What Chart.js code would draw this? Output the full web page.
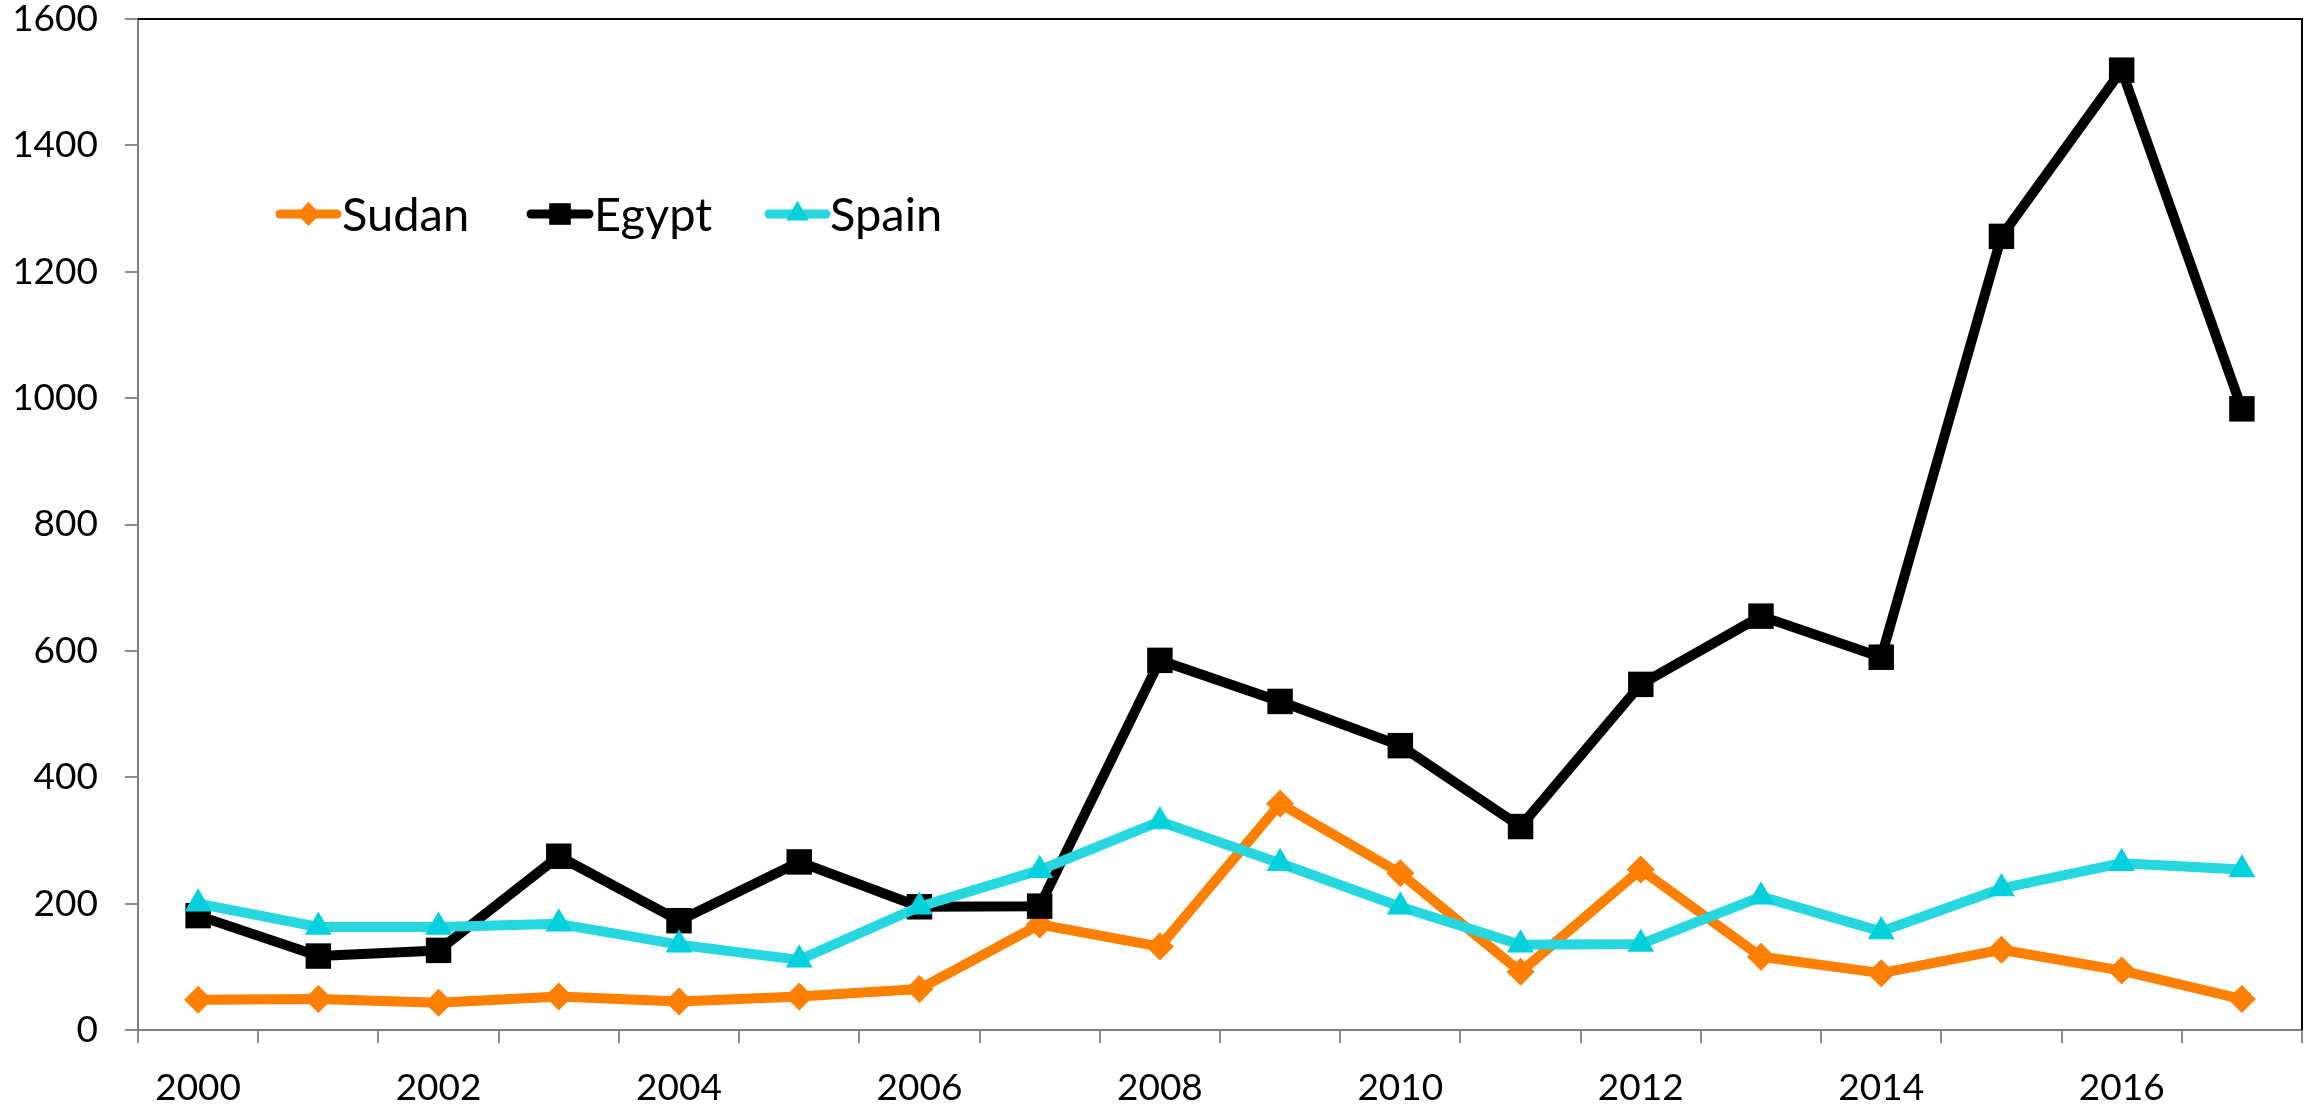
<!DOCTYPE html>
<html>
<head>
<meta charset="utf-8">
<title>Sudan, Egypt, Spain 2000-2017</title>
<script src="https://cdn.jsdelivr.net/npm/chart.js@4.4.1/dist/chart.umd.min.js"></script>
<style>
  html, body { margin: 0; padding: 0; background: #fff; }
  #wrap { width: 2320px; height: 1108px; }
</style>
</head>
<body>
<div id="wrap"><canvas id="chart" width="2320" height="1108"></canvas></div>
<script>
// Data
const years = ['2000', '2001', '2002', '2003', '2004', '2005', '2006', '2007', '2008',
               '2009', '2010', '2011', '2012', '2013', '2014', '2015', '2016', '2017'];
const sudan = [48, 49, 43, 53, 45, 53, 65, 167, 132, 358, 248, 92, 254, 116, 90, 127, 94, 49];
const egypt = [181, 117, 126, 275, 173, 266, 195, 196, 585, 520, 450, 322, 547, 655, 590, 1256, 1519, 983];
const spain = [200, 163, 163, 168, 135, 111, 195, 253, 330, 264, 195, 135, 136, 211, 156, 224, 264, 254];
const yTicks = [0, 200, 400, 600, 800, 1000, 1200, 1400, 1600];

const FONT = 'Lato, "Open Sans", "DejaVu Sans", sans-serif';

// Black frame on the top and right side of the plot area
const plotFrame = {
    id: 'plotFrame',
    beforeDatasetsDraw(chart) {
        const { ctx, chartArea: a } = chart;
        ctx.save();
        ctx.strokeStyle = '#000';
        ctx.lineWidth = 2;
        ctx.beginPath();
        ctx.moveTo(a.left, a.top);
        ctx.lineTo(a.right, a.top);
        ctx.lineTo(a.right, a.bottom);
        ctx.stroke();
        ctx.restore();
    }
};

// Legend sitting inside the plot, like the original
const legendSpots = [
    { from: 280, to: 337, text: 342 },
    { from: 531, to: 589, text: 594 },
    { from: 769, to: 826, text: 830 }
];
const insideLegend = {
    id: 'insideLegend',
    afterDraw(chart) {
        const ctx = chart.ctx;
        const y = 214;
        ctx.save();
        chart.data.datasets.forEach((ds, i) => {
            const s = legendSpots[i];
            ctx.strokeStyle = ds.borderColor;
            ctx.lineWidth = 9;
            ctx.lineCap = 'round';
            ctx.beginPath();
            ctx.moveTo(s.from, y);
            ctx.lineTo(s.to, y);
            ctx.stroke();
            ctx.fillStyle = ds.pointBackgroundColor;
            Chart.helpers.drawPoint(ctx, {
                pointStyle: ds.pointStyle,
                radius: ds.pointRadius * 0.85,
                rotation: 0,
                borderWidth: 0
            }, (s.from + s.to) / 2, y);
            ctx.fillStyle = '#000';
            ctx.font = '47px ' + FONT;
            ctx.textBaseline = 'middle';
            ctx.textAlign = 'left';
            ctx.fillText(ds.label, s.text, y + 2);
        });
        ctx.restore();
    }
};

function series(label, data, color, pointColor, style, radius, order) {
    return {
        label: label,
        data: data,
        borderColor: color,
        backgroundColor: pointColor,
        pointBackgroundColor: pointColor,
        pointBorderColor: pointColor,
        pointBorderWidth: 0,
        pointStyle: style,
        pointRadius: radius,
        pointHoverRadius: radius,
        borderWidth: 10,
        borderJoinStyle: 'round',
        tension: 0,
        order: order
    };
}

new Chart(document.getElementById('chart'), {
    type: 'line',
    data: {
        labels: years,
        datasets: [
            series('Sudan', sudan, '#FF7F00', '#FF7F00', 'rectRot', 14, 3),
            series('Egypt', egypt, '#000000', '#000000', 'rect', 18, 2),
            series('Spain', spain, '#27D7E0', '#00D1DD', 'triangle', 15.5, 1)
        ]
    },
    options: {
        responsive: false,
        animation: false,
        layout: { padding: { top: 19, right: 15, left: 0, bottom: 0 } },
        plugins: {
            legend: { display: false },
            tooltip: { enabled: false }
        },
        scales: {
            x: {
                offset: true,
                grid: {
                    offset: true,
                    drawOnChartArea: false,
                    drawTicks: true,
                    tickLength: 13,
                    color: '#8c8c8c',
                    lineWidth: 2
                },
                border: { display: true, color: '#7f7f7f', width: 2 },
                ticks: {
                    autoSkip: false,
                    maxRotation: 0,
                    padding: 27,
                    color: '#000',
                    font: { family: FONT, size: 37, lineHeight: 1 },
                    callback: (v, i) => i % 2 === 0 ? years[i] : ''
                },
                afterFit: scale => { scale.height = 78; }
            },
            y: {
                min: yTicks[0],
                max: yTicks[yTicks.length - 1],
                grid: {
                    drawOnChartArea: false,
                    drawTicks: true,
                    tickLength: 13,
                    color: '#8c8c8c',
                    lineWidth: 2
                },
                border: { display: true, color: '#7f7f7f', width: 2 },
                ticks: {
                    stepSize: yTicks[1] - yTicks[0],
                    padding: 27,
                    color: '#000',
                    font: { family: FONT, size: 37, lineHeight: 1 },
                    callback: v => String(v)
                },
                afterFit: scale => {
                    scale.width = 138;
                    scale.paddingTop = 18;
                    scale.paddingBottom = 18;
                }
            }
        }
    },
    plugins: [plotFrame, insideLegend]
});
</script>
</body>
</html>
